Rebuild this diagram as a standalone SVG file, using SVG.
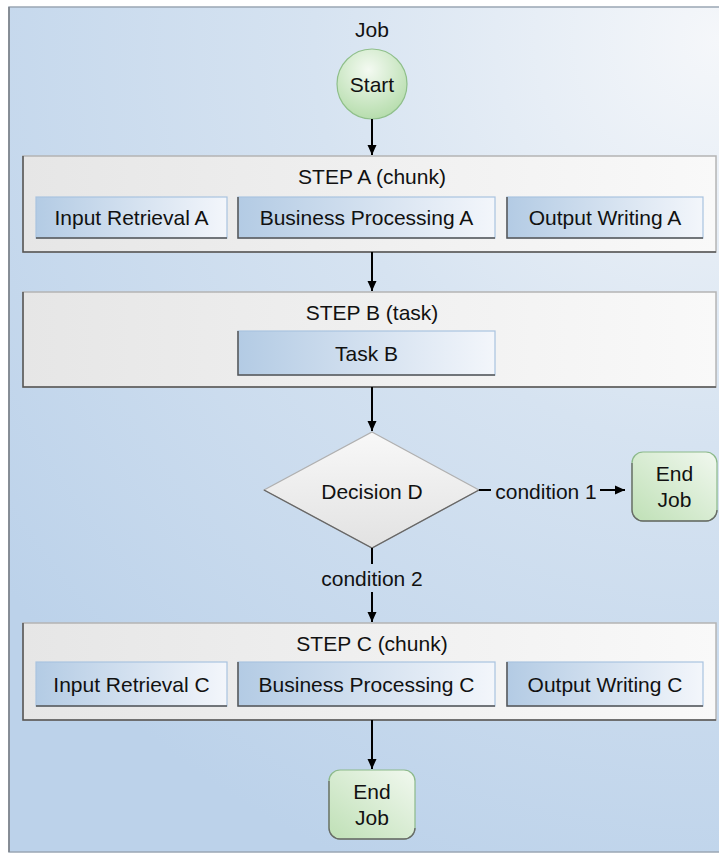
<svg xmlns="http://www.w3.org/2000/svg" width="719" height="855" viewBox="0 0 719 855">
<defs>
<radialGradient id="bgGrad" gradientUnits="userSpaceOnUse" cx="719" cy="40" r="900">
<stop offset="0" stop-color="#f5f7fa"/>
<stop offset="0.45" stop-color="#d6e3f1"/>
<stop offset="1" stop-color="#bcd2ea"/>
</radialGradient>
<linearGradient id="stepGrad" x1="0" y1="0" x2="1" y2="0">
<stop offset="0" stop-color="#e6e6e6"/>
<stop offset="1" stop-color="#f9f9f9"/>
</linearGradient>
<linearGradient id="subGrad" x1="0" y1="0" x2="1" y2="0">
<stop offset="0" stop-color="#b3cbe4"/>
<stop offset="1" stop-color="#f3f6fb"/>
</linearGradient>
<linearGradient id="greenGrad" x1="0" y1="1" x2="1" y2="0">
<stop offset="0" stop-color="#bfe0b6"/>
<stop offset="1" stop-color="#f1f8ef"/>
</linearGradient>
<radialGradient id="startGrad" cx="0.45" cy="0.3" r="0.75">
<stop offset="0" stop-color="#f4faf2"/>
<stop offset="1" stop-color="#b2dba8"/>
</radialGradient>
<linearGradient id="diaGrad" x1="0" y1="0" x2="0" y2="1">
<stop offset="0" stop-color="#f8f8f8"/>
<stop offset="1" stop-color="#e2e2e2"/>
</linearGradient>
<marker id="arrow" markerUnits="userSpaceOnUse" markerWidth="10" markerHeight="10" refX="10" refY="5" orient="auto">
<path d="M0,0.5 L10,5 L0,9.5 z" fill="#000"/>
</marker>
<style>
text{font-family:"Liberation Sans",Arial,sans-serif;font-size:21px;fill:#111;text-anchor:middle}
.step{fill:url(#stepGrad);stroke:#b4b4b4;stroke-width:1.5}
.sub{fill:url(#subGrad);stroke:#a9c3df;stroke-width:1.2}
.shadow{fill:none;stroke:#555;stroke-width:1.5}
.gshadow{fill:none;stroke:#6a6a6a;stroke-width:1.3}
.green{fill:url(#greenGrad);stroke:#8cb98a;stroke-width:1.2}
.conn{stroke:#000;stroke-width:2;fill:none}
</style>
</defs>

<g id="job">
<rect x="9" y="7" width="720" height="845" fill="url(#bgGrad)" stroke="#9aa6b4" stroke-width="1.5"/>
<path d="M9,7 L9,852" stroke="#7a7f86" stroke-width="1.5" fill="none"/>
<text x="372" y="37">Job</text>
</g>

<g id="start">
<circle cx="372" cy="84" r="35" fill="url(#startGrad)" stroke="#8fbf8a" stroke-width="1.2"/>
<text x="372" y="91.5">Start</text>
</g>

<g id="stepA">
<rect class="step" x="23" y="156" width="693" height="96"/>
<path class="shadow" d="M23,156 L23,252 L716,252"/>
<text x="372" y="183.5">STEP A (chunk)</text>
<g id="inputA">
<rect class="sub" x="36" y="197" width="191" height="41"/>
<path class="shadow" d="M36,238 L227,238"/>
<text x="131.5" y="225">Input Retrieval A</text>
</g>
<g id="businessA">
<rect class="sub" x="238" y="197" width="257" height="41"/>
<path class="shadow" d="M238,197 L238,238 L495,238"/>
<text x="366.5" y="225">Business Processing A</text>
</g>
<g id="outputA">
<rect class="sub" x="507" y="197" width="196" height="41"/>
<path class="shadow" d="M507,197 L507,238 L703,238"/>
<text x="605" y="225">Output Writing A</text>
</g>
</g>

<g id="stepB">
<rect class="step" x="23" y="292" width="693" height="95"/>
<path class="shadow" d="M23,292 L23,387 L716,387"/>
<text x="372" y="319.5">STEP B (task)</text>
<g id="taskB">
<rect class="sub" x="238" y="331" width="257" height="44"/>
<path class="shadow" d="M238,331 L238,375 L495,375"/>
<text x="366.5" y="360.5">Task B</text>
</g>
</g>

<g id="decisionD">
<polygon points="372,432 479,490 372,548 264,490" fill="url(#diaGrad)" stroke="#b0b0b0" stroke-width="1.2"/>
<path d="M264,490 L372,548 L479,490" fill="none" stroke="#666" stroke-width="1.3"/>
<text x="372" y="498.5">Decision D</text>
</g>

<g id="endJob1">
<rect class="green" x="632" y="452" width="85" height="69" rx="11"/>
<path class="gshadow" d="M632,463 L632,510 A11,11 0 0 0 643,521 L706,521 A11,11 0 0 0 717,510"/>
<text x="674.5" y="480.5">End</text>
<text x="674.5" y="506.5">Job</text>
</g>

<g id="stepC">
<rect class="step" x="23" y="623" width="693" height="97"/>
<path class="shadow" d="M23,623 L23,720 L716,720"/>
<text x="372" y="650.5">STEP C (chunk)</text>
<g id="inputC">
<rect class="sub" x="36" y="662" width="191" height="44"/>
<path class="shadow" d="M36,706 L227,706"/>
<text x="131.5" y="692">Input Retrieval C</text>
</g>
<g id="businessC">
<rect class="sub" x="238" y="662" width="257" height="44"/>
<path class="shadow" d="M238,662 L238,706 L495,706"/>
<text x="366.5" y="692">Business Processing C</text>
</g>
<g id="outputC">
<rect class="sub" x="507" y="662" width="196" height="44"/>
<path class="shadow" d="M507,662 L507,706 L703,706"/>
<text x="605" y="692">Output Writing C</text>
</g>
</g>

<g id="endJob2">
<rect class="green" x="329" y="770" width="86" height="69" rx="11"/>
<path class="gshadow" d="M329,781 L329,828 A11,11 0 0 0 340,839 L404,839 A11,11 0 0 0 415,828"/>
<text x="372" y="799">End</text>
<text x="372" y="825">Job</text>
</g>

<g id="connectors">
<line class="conn" x1="372" y1="119" x2="372" y2="155" marker-end="url(#arrow)"/>
<line class="conn" x1="372" y1="252" x2="372" y2="291" marker-end="url(#arrow)"/>
<line class="conn" x1="372" y1="387" x2="372" y2="431" marker-end="url(#arrow)"/>
<line class="conn" x1="479" y1="490" x2="491" y2="490"/>
<text x="546" y="498.5">condition 1</text>
<line class="conn" x1="600" y1="490" x2="625" y2="490" marker-end="url(#arrow)"/>
<line class="conn" x1="372" y1="548" x2="372" y2="564"/>
<text x="372" y="585.5">condition 2</text>
<line class="conn" x1="372" y1="592" x2="372" y2="622" marker-end="url(#arrow)"/>
<line class="conn" x1="372" y1="720" x2="372" y2="769" marker-end="url(#arrow)"/>
</g>
</svg>
